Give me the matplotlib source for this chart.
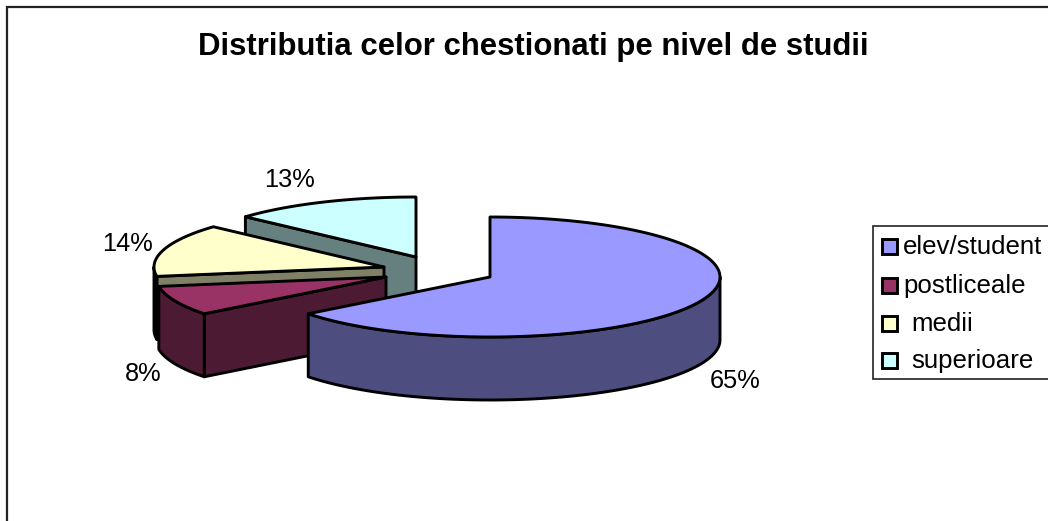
import numpy as np
import matplotlib
matplotlib.use("Agg")
import matplotlib.pyplot as plt
from matplotlib.patches import Polygon, Rectangle

plt.rcParams['font.family'] = ['Liberation Sans', 'DejaVu Sans']

title = "Distributia celor chestionati pe nivel de studii"
categories = ["elev/student", "postliceale", "medii", "superioare"]
values = [64.5, 8, 14.2, 13.3]
pct_labels = ["65%", "8%", "14%", "13%"]
top_colors = ["#9999FF", "#993366", "#FFFFCC", "#CCFFFF"]
side_colors = ["#4D4D80", "#4D1A33", "#808066", "#668080"]

# layout of the 3D pie (pixels)
CX, CY, RX, RY, DEPTH = 490, 277, 230, 60, 63
explode = [(0, 0), (-104, 0), (-106, -10), (-74, -20)]
label_pos = [(735, 381), (143, 374), (127, 244), (290, 180)]
legend_y = [246, 285, 323, 360]
legend_text_x = [903, 903, 911, 911]

fig = plt.figure(figsize=(10.48, 5.21), dpi=100)
ax = fig.add_axes([0, 0, 1, 1])
ax.set_xlim(0, 1048)
ax.set_ylim(521, 0)
ax.axis("off")

EDGE = dict(edgecolor="black", linewidth=2.1, joinstyle="round")


def rim_xy(cx, cy, a):
    return cx + RX * np.sin(a), cy - RY * np.cos(a)


def wall(cx, cy, a, color, z):
    x, y = rim_xy(cx, cy, a)
    pts = [(cx, cy), (x, y), (x, y + DEPTH), (cx, cy + DEPTH)]
    ax.add_patch(Polygon(pts, closed=True, facecolor=color, zorder=z, **EDGE))


fractions = np.array(values, dtype=float) / sum(values)
ends = np.cumsum(fractions) * 2 * np.pi
starts = ends - fractions * 2 * np.pi

# painter order: back slices first
for i in range(len(values) - 1, -1, -1):
    a0, a1 = starts[i], ends[i]
    cx, cy = CX + explode[i][0], CY + explode[i][1]
    z = 10 + (len(values) - i) * 10
    if np.sin(a0) < -1e-6:
        wall(cx, cy, a0, side_colors[i], z)
    if np.sin(a1) > 1e-6:
        wall(cx, cy, a1, side_colors[i], z)
    # outer rim, front half only
    r0, r1 = max(a0, np.pi / 2), min(a1, 3 * np.pi / 2)
    if r1 > r0:
        t = np.linspace(r0, r1, 80)
        x, y = rim_xy(cx, cy, t)
        pts = np.r_[np.c_[x, y], np.c_[x[::-1], y[::-1] + DEPTH]]
        ax.add_patch(Polygon(pts, closed=True, facecolor=side_colors[i], zorder=z + 1, **EDGE))
    # top face
    t = np.linspace(a0, a1, 120)
    x, y = rim_xy(cx, cy, t)
    pts = np.r_[[(cx, cy)], np.c_[x, y]]
    ax.add_patch(Polygon(pts, closed=True, facecolor=top_colors[i], zorder=z + 2, **EDGE))

for lab, (x, y) in zip(pct_labels, label_pos):
    ax.text(x, y, lab, fontsize=18.3, ha="center", va="center", color="black", zorder=100)

ax.text(533.5, 47, title, fontsize=22.4, fontweight="bold", ha="center", va="center", color="black")

# chart frame (open on the right and bottom edges of the crop)
ax.plot([6.8, 6.8, 1048], [521, 6.8, 6.8], color="#222222", lw=1.6, solid_joinstyle="miter", zorder=1)

# legend
ax.add_patch(Rectangle((873, 226), 180, 153, facecolor="white", edgecolor="#222222", lw=1.2, zorder=50))
for name, y, tx, col in zip(categories, legend_y, legend_text_x, top_colors):
    ax.add_patch(Rectangle((882, y - 7.5), 15, 15, facecolor=col, edgecolor="black", lw=2.1, zorder=51))
    ax.text(tx, y + 1, name, fontsize=18.6, ha="left", va="center", color="black", zorder=52)

fig.savefig("out.png", dpi=100)
